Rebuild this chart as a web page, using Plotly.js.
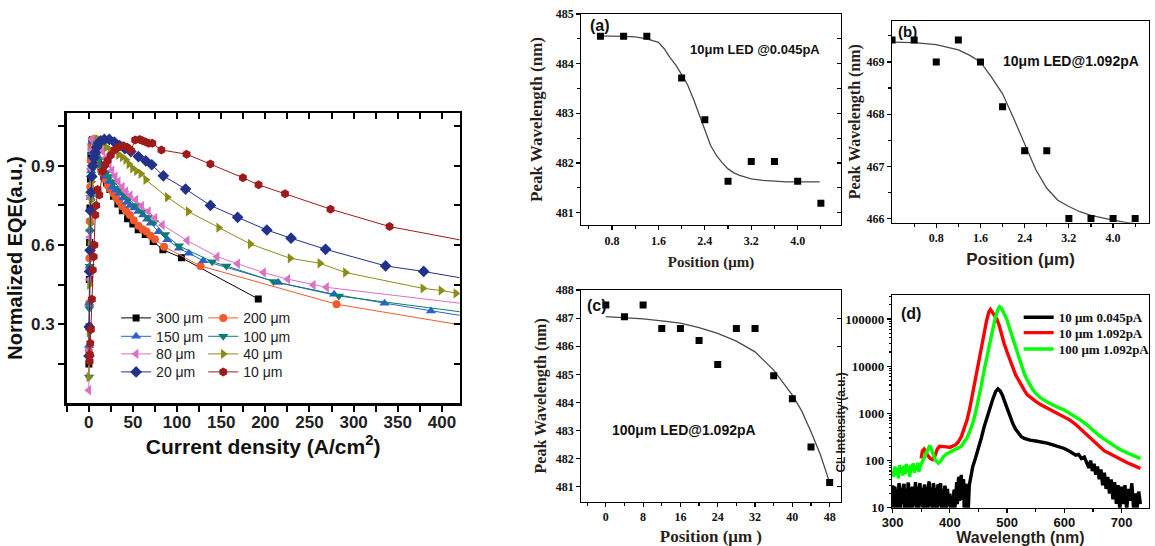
<!DOCTYPE html>
<html><head><meta charset="utf-8">
<script src="https://cdn.plot.ly/plotly-3.0.1.min.js"></script>
<style>html,body{margin:0;padding:0;background:#fff;}#chart{width:1155px;height:546px;}</style>
</head><body><div id="chart"></div>
<script>
// ---------- Panel 1: normalized EQE vs current density ----------
const eqeLabels = ['300 μm','200 μm','150 μm','100 μm','80 μm','40 μm','20 μm','10 μm'];
const x300 = [0.2,0.4,0.7,1.0,1.4,1.9,2.5,3.2,4.2,5.5,7,9,11,14,17,20,24,28,33,38,44,50,56,64,73,84,105,192];
const y300 = [0.15,0.29,0.47,0.61,0.74,0.85,0.94,0.99,1.0,0.99,0.97,0.945,0.915,0.885,0.86,0.835,0.81,0.785,0.755,0.73,0.70,0.68,0.658,0.64,0.613,0.582,0.552,0.396];
const x200 = [0.2,0.5,0.8,1.2,1.7,2.3,3,4,5,6.5,8,10,12.5,15,18,21.4,25,28,31,34.5,37.6,42,46.6,51,56.3,61,65.4,70,75,85.3,126.6,280.6,440];
const y200 = [0.2,0.38,0.55,0.69,0.82,0.92,0.98,1.0,0.995,0.98,0.96,0.93,0.9,0.875,0.85,0.826,0.81,0.795,0.78,0.765,0.748,0.73,0.714,0.694,0.673,0.66,0.651,0.635,0.622,0.594,0.521,0.376,0.287];
const x150 = [0.3,0.6,1,1.5,2.1,2.8,3.6,4.5,5.5,7,9,11,13.5,16,19,23.3,27,30.5,34.6,39,43.2,47,51.5,56,61.6,66,70.2,79,89,102.2,113.4,129.6,214.8,277.9,335,387.6,440];
const y150 = [0.22,0.38,0.52,0.66,0.78,0.88,0.95,0.99,1.0,0.99,0.96,0.93,0.9,0.875,0.86,0.84,0.82,0.808,0.796,0.778,0.762,0.75,0.74,0.727,0.714,0.698,0.683,0.65,0.62,0.588,0.569,0.541,0.458,0.414,0.38,0.35,0.323];
const x100 = [0.3,0.7,1.1,1.6,2.2,3,4,5,6.5,8,10,12,14.5,17,20,23.3,29,34.6,40,45,53.3,60.8,67,74,86.4,102.2,139.8,155.9,209.2,283.2,440];
const y100 = [0.1,0.36,0.52,0.65,0.78,0.88,0.96,1.0,1.0,0.98,0.95,0.925,0.905,0.89,0.875,0.86,0.84,0.815,0.795,0.776,0.75,0.726,0.705,0.685,0.64,0.597,0.537,0.521,0.462,0.407,0.339];
const x80 = [0.1,0.3,0.6,1,1.5,2.1,2.8,3.6,4.6,6,8,10,12.5,15.8,19,23.3,26.3,30,33.4,38,42,47,53.3,60,67.6,75,83.4,111.5,145.4,168.6,198,225.4,254.3,269.3,440];
const y80 = [0.05,0.2,0.47,0.63,0.78,0.89,0.96,1.0,1.0,0.995,0.985,0.975,0.965,0.955,0.93,0.904,0.882,0.86,0.84,0.82,0.803,0.788,0.771,0.748,0.727,0.702,0.676,0.617,0.556,0.529,0.496,0.471,0.449,0.44,0.372];
const x40 = [0.1,0.4,0.8,1.3,1.9,2.6,3.5,4.5,5.8,7.3,9,11,13.5,16.5,20,24,28,33.8,38,42,45.5,49.6,54,59,64.6,89,112.7,147.2,183,228,261.8,290.7,378.4,398.9,415.8,440];
const y40 = [0.1,0.27,0.45,0.6,0.68,0.77,0.84,0.9,0.95,0.98,1.0,1.0,0.995,0.985,0.97,0.96,0.952,0.942,0.933,0.923,0.907,0.891,0.88,0.87,0.847,0.781,0.727,0.666,0.604,0.55,0.531,0.496,0.436,0.428,0.417,0.405];
const x20 = [0.3,0.6,1,1.5,2,2.7,3.5,4.5,5.8,7.2,9,11,13.5,17.7,23.3,29,35,41,47.7,56.3,64.6,71.4,84.5,109.7,137.8,168.6,201.7,229.1,268.2,336.2,379.3,440];
const y20 = [0.18,0.29,0.5,0.58,0.73,0.8,0.86,0.9,0.93,0.95,0.97,0.985,0.995,1.0,1.0,0.99,0.977,0.965,0.954,0.935,0.919,0.904,0.862,0.812,0.75,0.705,0.657,0.626,0.584,0.521,0.50,0.465];
const x10 = [1.0,1.3,1.7,2.4,3.6,4.6,5.6,6.4,7.4,8.5,10.1,12,15.8,18.5,21.4,25,29,34,39,43.5,47.7,52.6,57.8,61,64.6,68,72,82.3,110.8,137.8,174.6,192.3,222.3,273.8,340.7,440];
const y10 = [0.16,0.185,0.228,0.28,0.395,0.506,0.556,0.6,0.714,0.75,0.81,0.79,0.88,0.905,0.92,0.94,0.96,0.97,0.976,0.97,0.958,0.998,1.0,0.995,0.99,0.985,0.985,0.96,0.944,0.907,0.855,0.828,0.794,0.736,0.67,0.607];

// ---------- Panel (a) ----------
const aPos = [0.6,1.0,1.4,2.0,2.4,2.8,3.2,3.6,4.0,4.4];
const aPeak = [484.55,484.55,484.55,483.71,482.87,481.63,482.03,482.03,481.63,481.19];
const aFitX = [0.55,0.8,1.0,1.2,1.4,1.6,1.7,1.8,1.9,2.0,2.1,2.2,2.3,2.4,2.5,2.6,2.7,2.8,2.9,3.0,3.2,3.4,3.6,3.8,4.0,4.2,4.38];
const aFitY = [484.56,484.56,484.55,484.54,484.5,484.43,484.3,484.12,483.97,483.78,483.58,483.3,482.98,482.68,482.35,482.15,482.0,481.88,481.8,481.75,481.68,481.65,481.63,481.62,481.62,481.62,481.62];
// ---------- Panel (b) ----------
const bPos = [0,0.4,0.8,1.2,1.6,2.0,2.4,2.8,3.2,3.6,4.0,4.4];
const bPeak = [469.42,469.42,469.0,469.42,469.0,468.14,467.3,467.3,466.0,466.0,466.0,466.0];
const bFitX = [0,0.4,0.8,1.2,1.4,1.6,1.8,2.0,2.2,2.4,2.6,2.8,3.0,3.2,3.4,3.6,3.8,4.0,4.2,4.4];
const bFitY = [469.38,469.37,469.33,469.23,469.13,469.0,468.71,468.39,467.92,467.42,466.94,466.58,466.35,466.23,466.13,466.06,466.01,465.97,465.93,465.9];
// ---------- Panel (c) ----------
const cPos = [0,4,8,12,16,20,24,28,32,36,40,44,48];
const cPeak = [487.47,487.05,487.47,486.63,486.63,486.2,485.35,486.63,486.63,484.95,484.13,482.42,481.15];
const cFitX = [0,4,8,12,16,20,24,28,32,36,40,42,44,46,48];
const cFitY = [487.05,487.02,486.97,486.9,486.82,486.66,486.46,486.18,485.8,485.15,484.26,483.7,482.96,482.15,481.15];
// ---------- Panel (d): CL spectra [wavelength nm, intensity] ----------
const clLabels = ['10 μm 0.045pA','10 μm 1.092pA','100 μm 1.092pA'];
const clBlack = [[300,30],[301,10],[302,12],[303,26],[304,28],[305,11],[306,9],[307,22],[308,25],[309,10],[310,14],[311,33],[312,30],[313,9],[314,10],[315,24],[316,26],[317,12],[318,15],[319,29],[320,32],[321,10],[322,9],[323,25],[324,22],[325,9],[326,13],[327,34],[328,30],[329,10],[330,11],[331,23],[332,27],[333,9],[334,8],[335,28],[336,24],[337,11],[338,16],[339,31],[340,35],[341,10],[342,12],[343,25],[344,28],[345,9],[346,10],[347,30],[348,33],[349,11],[350,14],[351,24],[352,26],[353,9],[354,9],[355,27],[356,31],[357,10],[358,13],[359,28],[360,25],[361,9],[362,10],[363,32],[364,36],[365,11],[366,15],[367,25],[368,27],[369,9],[370,9],[371,33],[372,30],[373,10],[374,12],[375,26],[376,24],[377,9],[378,10],[379,31],[380,29],[381,11],[382,14],[383,30],[384,33],[385,9],[386,9],[387,25],[388,22],[389,10],[390,12],[391,29],[392,27],[393,9],[394,10],[395,22],[396,25],[397,11],[398,13],[399,18],[400,20],[401,9],[402,9],[403,16],[404,18],[405,9],[406,11],[407,22],[408,24],[409,10],[410,14],[411,30],[412,35],[413,12],[414,16],[415,40],[416,45],[417,14],[418,20],[419,44],[420,50],[421,15],[422,18],[423,36],[424,40],[425,10],[426,12],[427,30],[428,32],[429,9],[430,9],[431,20],[432,8],[434,30],[436,42],[438,55],[440,74],[445,115],[450,180],[455,300],[460,520],[465,850],[470,1370],[475,2000],[480,2900],[484,3300],[488,3000],[492,2400],[496,1750],[500,1260],[505,870],[510,610],[515,460],[520,380],[525,320],[530,295],[535,280],[540,270],[550,260],[560,250],[570,235],[580,215],[590,200],[600,180],[610,155],[620,130],[625,135],[630,110],[635,118],[640,90],[643,70],[646,100],[649,60],[652,85],[655,50],[658,75],[661,40],[664,65],[667,30],[670,55],[673,25],[676,45],[679,20],[682,40],[685,15],[688,35],[691,12],[694,30],[697,9],[700,28],[703,12],[706,30],[709,9],[712,25],[715,14],[718,33],[721,10],[724,20],[727,9],[730,22],[733,12]];
const clRed = [[350,110],[352,160],[355,175],[358,150],[362,125],[366,110],[370,105],[374,125],[378,175],[382,200],[386,200],[390,195],[395,195],[400,190],[405,200],[410,215],[415,250],[420,320],[425,480],[430,720],[435,1300],[440,2600],[445,5200],[450,11500],[455,25000],[460,50000],[464,90000],[468,140000],[471,160000],[474,140000],[478,115000],[482,100000],[486,75000],[490,48000],[495,30000],[500,20000],[505,13500],[510,9000],[515,6500],[520,5100],[525,3900],[530,3100],[535,2500],[540,2200],[550,1800],[560,1500],[570,1300],[580,1100],[590,950],[600,850],[610,720],[620,580],[630,450],[640,340],[650,260],[660,200],[670,160],[680,140],[690,120],[700,102],[710,90],[720,80],[727,75],[733,68]];
const clGreen = [[300,60],[302,45],[304,75],[306,50],[308,70],[310,42],[312,80],[314,55],[316,72],[318,48],[320,78],[322,52],[324,85],[326,58],[328,76],[330,45],[332,82],[334,60],[336,88],[338,55],[340,80],[342,62],[344,90],[346,58],[348,75],[350,85],[353,100],[356,120],[359,150],[362,190],[365,210],[368,170],[371,130],[374,105],[377,95],[380,88],[383,95],[386,110],[390,125],[395,140],[400,150],[405,160],[410,170],[415,180],[420,200],[425,250],[430,300],[435,420],[440,620],[445,1050],[450,1900],[455,3900],[460,8300],[465,17000],[470,35000],[475,60000],[480,112000],[484,160000],[487,182000],[490,170000],[495,130000],[500,95000],[505,60000],[510,39000],[515,25000],[520,16000],[525,10500],[530,7000],[535,5200],[540,4000],[545,3200],[550,2650],[560,2070],[570,1750],[580,1500],[590,1320],[600,1180],[610,1000],[620,850],[630,700],[640,565],[650,440],[660,347],[670,285],[680,230],[690,195],[700,165],[710,145],[720,130],[727,118],[733,110]];

// ---------- styles ----------
const W = 1155, H = 546;
const px = v => v / W, py = v => 1 - v / H;
const SANS = "'Liberation Sans', Arial, sans-serif";
const SERIF = "'Liberation Serif', 'Times New Roman', serif";
const TXT = '#2a1f1a';
const eqeStyle = [
  {c:'#000000', s:'square', z:7},
  {c:'#f15a2b', s:'circle', z:8},
  {c:'#2b63c6', s:'triangle-up', z:9},
  {c:'#0e7c72', s:'triangle-down', z:9},
  {c:'#dc6fc6', s:'triangle-left', z:9},
  {c:'#8b8b17', s:'triangle-right', z:9},
  {c:'#233289', s:'diamond', z:9},
  {c:'#9e1b1b', s:'hexagon', z:9}
];
const eqeX = [x300,x200,x150,x100,x80,x40,x20,x10];
const eqeY = [y300,y200,y150,y100,y80,y40,y20,y10];
const legId = i => i === 0 ? 'legend' : 'legend' + (i + 1);

const traces = [];
eqeLabels.forEach((name, i) => {
  traces.push({x: eqeX[i], y: eqeY[i], xaxis:'x', yaxis:'y', type:'scatter', mode:'lines+markers', name,
    line:{color: eqeStyle[i].c, width:1}, marker:{color: eqeStyle[i].c, symbol: eqeStyle[i].s, size: eqeStyle[i].z, line:{width:0}},
    legend: legId(i), showlegend:true});
});
const fitLine = {color:'#4a4a4a', width:1.3};
const pt = {color:'#000', symbol:'square', size:7};
traces.push({x:aFitX, y:aFitY, xaxis:'x2', yaxis:'y2', mode:'lines', line:fitLine, showlegend:false});
traces.push({x:aPos, y:aPeak, xaxis:'x2', yaxis:'y2', mode:'markers', marker:pt, showlegend:false});
traces.push({x:bFitX, y:bFitY, xaxis:'x3', yaxis:'y3', mode:'lines', line:fitLine, showlegend:false});
traces.push({x:bPos, y:bPeak, xaxis:'x3', yaxis:'y3', mode:'markers', marker:pt, showlegend:false});
traces.push({x:cFitX, y:cFitY, xaxis:'x4', yaxis:'y4', mode:'lines', line:fitLine, showlegend:false});
traces.push({x:cPos, y:cPeak, xaxis:'x4', yaxis:'y4', mode:'markers', marker:pt, showlegend:false});
const clData = [clBlack, clRed, clGreen];
const clColors = ['#000000', '#ff0000', '#00ff00'];
clData.forEach((arr, i) => {
  traces.push({x: arr.map(p => p[0]), y: arr.map(p => p[1]), xaxis:'x5', yaxis:'y5', mode:'lines', name: clLabels[i],
    line:{color: clColors[i], width:3.4}, legend: legId(8 + i), showlegend:true});
});
[['x6','y6'],['x7','y7'],['x8','y8']].forEach(([xa, ya]) => traces.push({x:[], y:[], xaxis:xa, yaxis:ya, mode:'markers', showlegend:false, hoverinfo:'skip'}));

const base = {showline:true, linecolor:'#000', mirror:true, ticks:'outside', showgrid:false, zeroline:false, tickcolor:'#000', automargin:false};
const overlay = {showline:false, showgrid:false, zeroline:false, showticklabels:false, ticks:'inside', tickcolor:'#000', automargin:false};
const serifTick = {family:SERIF, size:12, weight:'bold', color:'#111'};

const layout = {
  width: W, height: H, margin:{l:0, r:0, t:0, b:0},
  paper_bgcolor:'#fff', plot_bgcolor:'rgba(0,0,0,0)', showlegend:true,
  xaxis: Object.assign({}, base, {domain:[px(67), px(462)], anchor:'y', range:[-25, 420], tickmode:'linear', tick0:0, dtick:50,
    linewidth:2.5, tickwidth:2, ticklen:6, ticklabelstandoff:-4, minor:{ticks:'outside', dtick:25, ticklen:6, tickwidth:2, tickcolor:'#000'},
    tickfont:{family:SANS, size:17, weight:'bold', color:'#222'},
    title:{text:'Current density (A/cm<sup>2</sup>)', font:{family:SANS, size:21, weight:'bold', color:'#111'}, standoff:5}}),
  yaxis: Object.assign({}, base, {domain:[py(403), py(113)], anchor:'x', range:[0.002, 1.1], tickmode:'array',
    tickvals:[0.15,0.3,0.45,0.6,0.75,0.9,1.05], ticktext:[' ','0.3',' ','0.6',' ','0.9',' '],
    linewidth:2.5, tickwidth:2, ticklen:6, tickfont:{family:SANS, size:17, weight:'bold', color:'#222'},
    title:{text:'Normalized EQE(a.u.)', font:{family:SANS, size:20, weight:'bold', color:'#111'}, standoff:3}}),
  xaxis6: Object.assign({}, overlay, {overlaying:'x', anchor:'y6', side:'top', range:[-25, 420], tickmode:'linear', tick0:0, dtick:25, ticklen:6, tickwidth:2}),
  yaxis6: Object.assign({}, overlay, {overlaying:'y', anchor:'x6', side:'right', range:[0.002, 1.1], tickmode:'linear', tick0:0.15, dtick:0.15, ticklen:6, tickwidth:2}),
  xaxis2: Object.assign({}, base, {domain:[px(584.3), px(845)], anchor:'y2', range:[0.27, 4.74], tickmode:'array', tickvals:[0.8,1.6,2.4,3.2,4.0], ticktext:['0.8','1.6','2.4','3.2','4.0'],
    linewidth:1.2, tickwidth:1.2, ticklen:4, minor:{ticks:'outside', tickmode:'array', tickvals:[0.4,1.2,2.0,2.8,3.6,4.4], ticklen:3, tickcolor:'#000'}, tickfont:serifTick,
    title:{text:'Position (μm)', font:{family:SERIF, size:15, weight:'bold', color:TXT}, standoff:10}}),
  yaxis2: Object.assign({}, base, {domain:[py(225), py(14)], anchor:'x2', range:[480.75, 485], tickmode:'linear', tick0:481, dtick:1,
    linewidth:1.2, tickwidth:1.2, ticklen:4, minor:{ticks:'outside', dtick:0.5, ticklen:3, tickcolor:'#000'}, tickfont:serifTick,
    title:{text:'Peak Wavelength (nm)', font:{family:SERIF, size:17, weight:'bold', color:TXT}, standoff:8}}),
  xaxis7: Object.assign({}, overlay, {overlaying:'x2', anchor:'y7', side:'top', range:[0.27, 4.74], ticks:''}),
  yaxis7: Object.assign({}, overlay, {overlaying:'y2', anchor:'x7', side:'right', range:[480.75, 485], tickmode:'linear', tick0:481, dtick:0.5, ticklen:4, tickwidth:1.2}),
  xaxis3: Object.assign({}, base, {domain:[px(896.7), 1], anchor:'y3', range:[0, 4.65], tickmode:'array', tickvals:[0.8,1.6,2.4,3.2,4.0], ticktext:['0.8','1.6','2.4','3.2','4.0'],
    linewidth:1.2, tickwidth:1.2, ticklen:4, minor:{ticks:'outside', tickmode:'array', tickvals:[0.4,1.2,2.0,2.8,3.6,4.4], ticklen:3, tickcolor:'#000'}, tickfont:serifTick,
    title:{text:'Position (μm)', font:{family:SANS, size:17, weight:'bold', color:TXT}, standoff:8}}),
  yaxis3: Object.assign({}, base, {domain:[py(222.7), py(20.7)], anchor:'x3', range:[465.92, 469.79], tickmode:'linear', tick0:466, dtick:1,
    linewidth:1.2, tickwidth:1.2, ticklen:4, minor:{ticks:'outside', dtick:0.5, ticklen:3, tickcolor:'#000'}, tickfont:serifTick,
    title:{text:'Peak Wavelength (nm)', font:{family:SERIF, size:16, weight:'bold', color:TXT}, standoff:1}}),
  xaxis4: Object.assign({}, base, {domain:[px(584.3), px(845)], anchor:'y4', range:[-5.26, 50.35], tickmode:'linear', tick0:0, dtick:8,
    linewidth:1.2, tickwidth:1.2, ticklen:4, minor:{ticks:'outside', dtick:4, ticklen:3, tickcolor:'#000'}, tickfont:serifTick,
    title:{text:'Position (μm )', font:{family:SERIF, size:17, weight:'bold', color:TXT}, standoff:10}}),
  yaxis4: Object.assign({}, base, {domain:[py(501.7), py(290)], anchor:'x4', range:[480.47, 488], tickmode:'linear', tick0:481, dtick:1,
    linewidth:1.2, tickwidth:1.2, ticklen:4, tickfont:serifTick,
    title:{text:'Peak Wavelength (nm)', font:{family:SERIF, size:16, weight:'bold', color:TXT}, standoff:5}}),
  xaxis8: Object.assign({}, overlay, {overlaying:'x4', anchor:'y8', side:'top', range:[-5.26, 50.35], ticks:''}),
  yaxis8: Object.assign({}, overlay, {overlaying:'y4', anchor:'x8', side:'right', range:[480.47, 488], tickmode:'linear', tick0:481, dtick:1, ticklen:4, tickwidth:1.2}),
  xaxis5: Object.assign({}, base, {domain:[px(896.7), 1], anchor:'y5', range:[299, 748], tickmode:'linear', tick0:300, dtick:100,
    linewidth:1.2, tickwidth:1.2, ticklen:4, ticklabelstandoff:-2, minor:{ticks:'outside', dtick:50, ticklen:3, tickcolor:'#000'},
    tickfont:{family:SANS, size:13, weight:'bold', color:'#111'},
    title:{text:'Wavelength (nm)', font:{family:SANS, size:16, weight:'bold', color:TXT}, standoff:5}}),
  yaxis5: Object.assign({}, base, {domain:[py(507.7), py(295)], anchor:'x5', type:'log', range:[1, 5.51], tickmode:'array',
    tickvals:[10,100,1000,10000,100000], ticktext:['10','100','1000','10000','100000'],
    linewidth:1.2, tickwidth:1.2, ticklen:4,
    minor:{tickmode:'array', tickvals:[20,30,40,50,60,70,80,90,200,300,400,500,600,700,800,900,2000,3000,4000,5000,6000,7000,8000,9000,20000,30000,40000,50000,60000,70000,80000,90000,200000,300000], ticks:'outside', ticklen:2, tickcolor:'#000'},
    tickfont:{family:SERIF, size:13, weight:'bold', color:'#111'},
    title:{text:''}}),
  annotations: [
    {text:'(a)', x:px(591), y:py(25.5), xref:'paper', yref:'paper', xanchor:'left', yanchor:'middle', showarrow:false, font:{family:SANS, size:16, weight:'bold', color:'#111'}},
    {text:'10μm LED @0.045pA', x:px(691.7), y:py(49), xref:'paper', yref:'paper', xanchor:'left', yanchor:'middle', showarrow:false, font:{family:SANS, size:13, weight:'bold', color:'#111'}},
    {text:'(b)', x:px(901), y:py(31), xref:'paper', yref:'paper', xanchor:'left', yanchor:'middle', showarrow:false, font:{family:SANS, size:15, weight:'bold', color:'#111'}},
    {text:'10μm LED@1.092pA', x:px(1006.7), y:py(61), xref:'paper', yref:'paper', xanchor:'left', yanchor:'middle', showarrow:false, font:{family:SANS, size:14, weight:'bold', color:'#111'}},
    {text:'(c)', x:px(588), y:py(305), xref:'paper', yref:'paper', xanchor:'left', yanchor:'middle', showarrow:false, font:{family:SANS, size:16, weight:'bold', color:'#111'}},
    {text:'100μm LED@1.092pA', x:px(613), y:py(430), xref:'paper', yref:'paper', xanchor:'left', yanchor:'middle', showarrow:false, font:{family:SANS, size:14, weight:'bold', color:'#111'}},
    {text:'(d)', x:px(904), y:py(313), xref:'paper', yref:'paper', xanchor:'left', yanchor:'middle', showarrow:false, font:{family:SANS, size:16, weight:'bold', color:'#111'}},
    {text:'CL Intensity (a.u.)', x:px(845), y:py(423), xref:'paper', yref:'paper', xanchor:'center', yanchor:'middle', textangle:-90, showarrow:false, font:{family:SANS, size:12, weight:'bold', color:TXT}}
  ]
};
const rowsY = [318.3, 336.7, 354.3, 372.3];
for (let i = 0; i < 8; i++) {
  const col = i % 2, row = Math.floor(i / 2);
  layout[legId(i)] = {x: px(col === 0 ? 116.7 : 204.3), y: py(rowsY[row]), xanchor:'left', yanchor:'middle',
    bgcolor:'rgba(0,0,0,0)', borderwidth:0, font:{family:SANS, size:14, color:'#222'}};
}
const dRows = [317.3, 332.7, 349];
for (let i = 0; i < 3; i++) {
  layout[legId(8 + i)] = {x: px(1024), y: py(dRows[i]), xanchor:'left', yanchor:'middle',
    bgcolor:'rgba(0,0,0,0)', borderwidth:0, font:{family:SERIF, size:13, weight:'bold', color:'#111'}};
}
Plotly.newPlot('chart', traces, layout, {displayModeBar:false, staticPlot:true});
</script></body></html>
